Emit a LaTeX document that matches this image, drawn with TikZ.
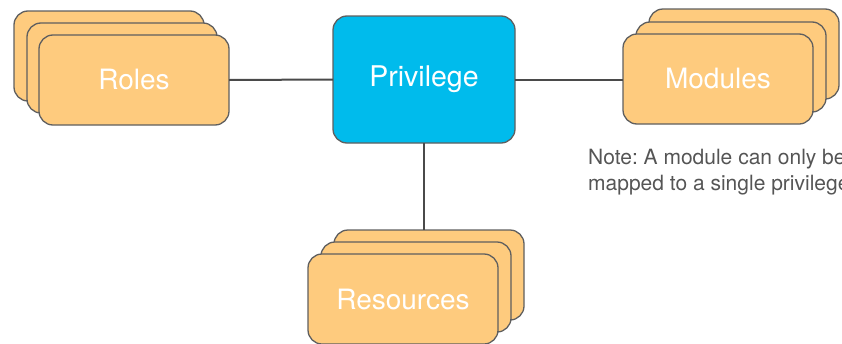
\documentclass[tikz,border=0pt]{standalone}
\usepackage{fontspec}
\setmainfont{TeX Gyre Heros}
\frenchspacing
\definecolor{cardfill}{HTML}{FECB7E}
\definecolor{cardedge}{HTML}{5F5F5F}
\definecolor{privfill}{HTML}{00BBEC}
\definecolor{linkgray}{HTML}{4A4A4A}
\definecolor{notegray}{HTML}{555555}
\tikzset{
  card/.style={draw=cardedge, line width=1.3pt, fill=cardfill, rounded corners=14pt,
    minimum width=190pt, minimum height=90pt, inner sep=0pt, outer sep=0pt,
    text=white, font=\fontsize{28}{32}\selectfont},
  privbox/.style={draw=cardedge, line width=1.3pt, fill=privfill, rounded corners=14pt,
    minimum width=182pt, minimum height=127pt, inner sep=0pt, outer sep=0pt,
    text=white, font=\fontsize{28.5}{32}\selectfont},
  link/.style={draw=linkgray, line width=2pt},
  note/.style={text=notegray, font=\fontsize{21}{26}\selectfont, align=left,
    anchor=north west, inner sep=0pt}
}
\begin{document}
\begin{tikzpicture}[x=1pt, y=-1pt]
  \useasboundingbox (0,0) rectangle (842,343);
  % Roles stack
  \node[card] (rolesB) at (109,56) {};
  \node[card] (rolesM) at (122,68) {};
  \node[card] (roles)  at (134,80) {Roles};
  % Modules stack
  \node[card] (modB) at (744,54) {};
  \node[card] (modM) at (731,67) {};
  \node[card] (mod)  at (718,79) {Modules};
  % Resources stack
  \node[card] (resB) at (429,275) {};
  \node[card] (resM) at (416,287) {};
  \node[card] (res)  at (403,299) {Resources};
  % Central privilege
  \node[privbox] (priv) at (424,79.5) {Privilege};
  % Connectors
  \draw[link] (roles.east) -- (priv.west);
  \draw[link] (priv.east) -- (priv.east -| mod.west);
  \draw[link] (priv.south) -- (priv.south |- resB.north);
  % Note
  \node[note] (nt) at (588,149) {Note: A module can only be\\mapped to a single privilege};
\end{tikzpicture}
\end{document}
